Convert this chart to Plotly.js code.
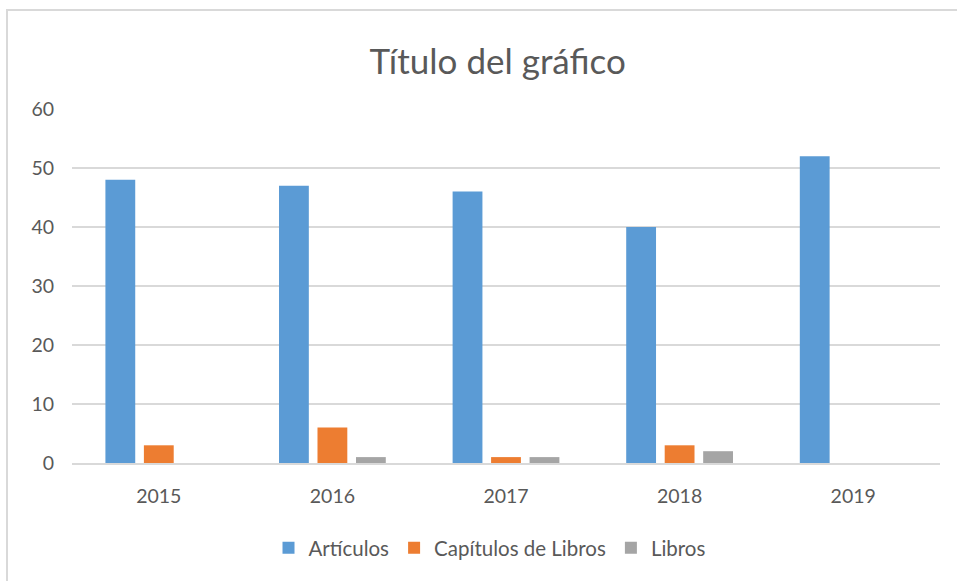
<!DOCTYPE html>
<html>
<head>
<meta charset="utf-8">
<script src="https://cdn.plot.ly/plotly-3.0.1.min.js"></script>
<style>
html,body{margin:0;padding:0;background:#fff;}
#frame{position:absolute;left:6px;top:9px;width:960px;height:580px;border-left:2px solid #d9d9d9;border-top:2px solid #d9d9d9;pointer-events:none;}
#chart{position:absolute;left:0;top:0;width:957px;height:581px;}
</style>
</head>
<body>
<div id="chart"></div>
<div id="frame"></div>
<script>
const categories = ['2015', '2016', '2017', '2018', '2019'];
const articulos = [48, 47, 46, 40, 52];
const capitulos = [3, 6, 1, 3, 0];
const libros = [0, 1, 1, 2, 0];
const seriesNames = ['Artículos', 'Capítulos de Libros', 'Libros'];
const yTicks = [0, 10, 20, 30, 40, 50, 60];

const colors = ['#5b9bd5', '#ed7d31', '#a5a5a5'];
const values = [articulos, capitulos, libros];
const traces = values.map((v, i) => ({
  type: 'bar',
  name: seriesNames[i],
  x: categories,
  y: v,
  marker: {color: colors[i], line: {width: 0}},
  hoverinfo: 'x+y+name'
}));

const font = 'Lato, "Open Sans", sans-serif';
const layout = {
  width: 957,
  height: 581,
  margin: {l: 72, r: 17, t: 109, b: 118, autoexpand: false},
  paper_bgcolor: '#ffffff',
  plot_bgcolor: '#ffffff',
  barmode: 'group',
  bargap: 0.335,
  bargroupgap: 0.225,
  font: {family: font, color: '#595959', size: 19},
  title: {
    text: 'Título del gráfico',
    font: {family: font, size: 35, color: '#595959'},
    x: 0.52, xanchor: 'center',
    y: 1 - 62/581, yanchor: 'middle', yref: 'container'
  },
  xaxis: {
    type: 'category',
    tickvals: categories,
    showgrid: false,
    zeroline: false,
    showline: true,
    linecolor: '#d9d9d9',
    linewidth: 2,
    ticks: '',
    ticklabelstandoff: 15,
    tickfont: {family: font, size: 19.5, color: '#595959'}
  },
  yaxis: {
    range: [0, 60],
    tickvals: yTicks,
    showgrid: true,
    gridcolor: '#d9d9d9',
    gridwidth: 2,
    zeroline: false,
    showline: false,
    ticks: '',
    ticklabelstandoff: 17,
    tickfont: {family: font, size: 19.5, color: '#595959'}
  },
  showlegend: true,
  legend: {
    orientation: 'h',
    x: 0.481, xanchor: 'center',
    yref: 'container',
    y: 1 - 548/581, yanchor: 'middle',
    font: {family: font, size: 20.5, color: '#595959'},
    itemwidth: 30,
    traceorder: 'normal'
  }
};

Plotly.newPlot('chart', traces, layout, {displayModeBar: false, staticPlot: true});
</script>
</body>
</html>
